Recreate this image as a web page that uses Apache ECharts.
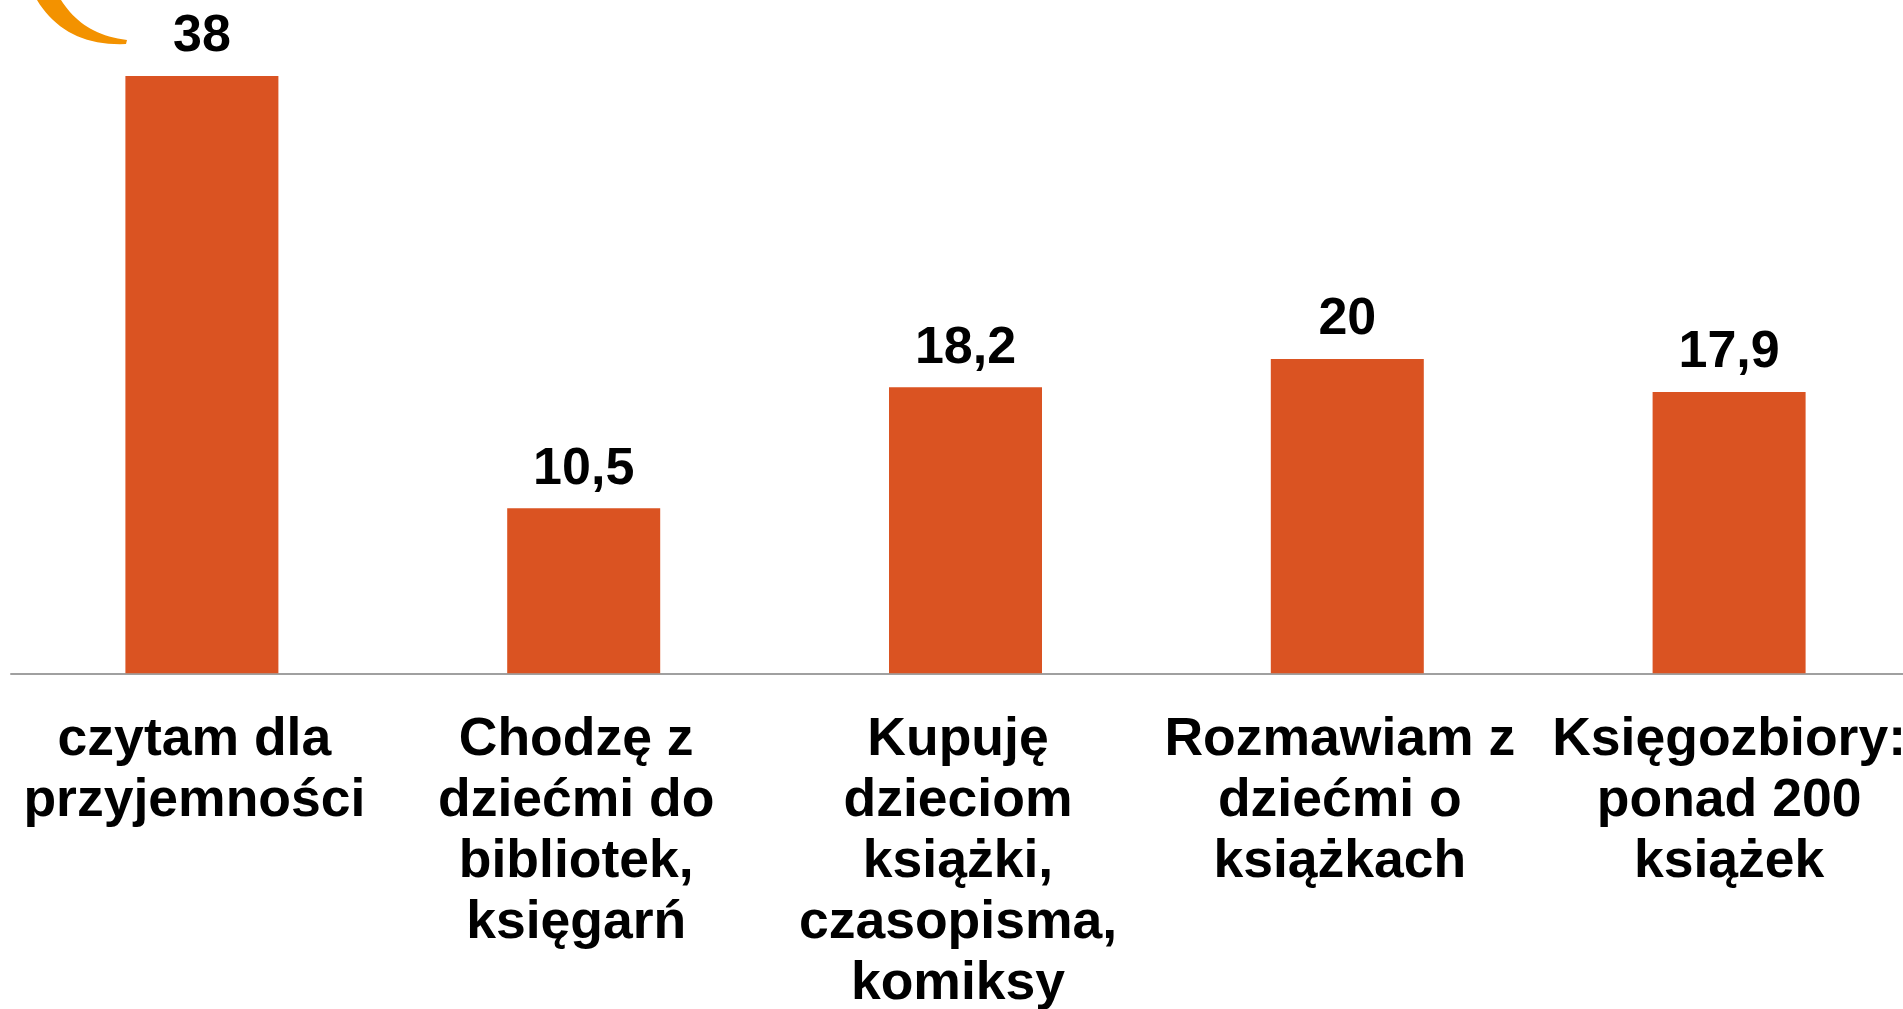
<!DOCTYPE html>
<html>
<head>
<meta charset="utf-8">
<title>Czytanie</title>
<script src="https://cdn.jsdelivr.net/npm/echarts@6/dist/echarts.min.js"></script>
<style>
    html, body { margin: 0; padding: 0; background: #fff; }
    #chart { width: 1903px; height: 1009px; }
</style>
</head>
<body>
<div id="chart"></div>
<script>
// kategorie (z ręcznym łamaniem wierszy jak na slajdzie)
const categories = [
    'czytam dla\nprzyjemności',
    'Chodzę z\ndziećmi do\nbibliotek,\nksięgarń',
    'Kupuję\ndzieciom\nksiążki,\nczasopisma,\nkomiksy',
    'Rozmawiam z\ndziećmi o\nksiążkach',
    'Księgozbiory:\nponad 200\nksiążek'
]
const values = [38, 10.5, 18.2, 20, 17.9]

const FONT = '"Liberation Sans", Arial, sans-serif'

// punkty krzywej Béziera (łuk logo)
function bez(p0, p1, p2, p3, n) {
    const pts = []
    for (let i = 0; i <= n; i++) {
        const t = i / n, u = 1 - t
        pts.push([
            u*u*u*p0[0] + 3*u*u*t*p1[0] + 3*u*t*t*p2[0] + t*t*t*p3[0],
            u*u*u*p0[1] + 3*u*u*t*p1[1] + 3*u*t*t*p2[1] + t*t*t*p3[1]
        ])
    }
    return pts
}
const swoosh = bez([37, 0], [55, 30], [85, 46], [126, 44], 20)
    .concat(bez([127, 40], [95, 36], [75, 22], [61, 0], 20))

// na slajdzie podpisy 1-4 są lekko przesunięte w lewo, ostatni nie
const xData = categories.map((c, i) => i === categories.length - 1
    ? { value: c, textStyle: { padding: 0 } }
    : c)

const myChart = echarts.init(document.getElementById('chart'))

myChart.setOption({
    animation: false,
    backgroundColor: '#ffffff',
    graphic: [{
        type: 'polygon',
        shape: { points: swoosh },
        style: { fill: '#F39200' }
    }],
    grid: {
        left: 11,
        right: -17,
        top: 44.5,
        bottom: 335.7,
        containLabel: false,
        outerBoundsMode: 'none'
    },
    xAxis: {
        type: 'category',
        data: xData,
        axisLine: { lineStyle: { color: '#a0a0a0', width: 2 } },
        axisTick: { show: false },
        axisLabel: {
            interval: 0,
            margin: 36,
            color: '#000',
            fontFamily: FONT,
            fontWeight: 'bold',
            fontSize: 53.5,
            lineHeight: 61,
            align: 'center',
            padding: [0, 15, 0, 0]
        }
    },
    yAxis: {
        type: 'value',
        min: 0,
        max: 40,
        show: false,
        splitLine: { show: false }
    },
    series: [{
        type: 'bar',
        data: values,
        barWidth: 153,
        itemStyle: { color: '#DA5322' },
        label: {
            show: true,
            position: 'top',
            distance: 13,
            color: '#000',
            fontFamily: FONT,
            fontWeight: 'bold',
            fontSize: 52,
            formatter: p => String(p.value).replace('.', ',')
        }
    }]
})
</script>
</body>
</html>
